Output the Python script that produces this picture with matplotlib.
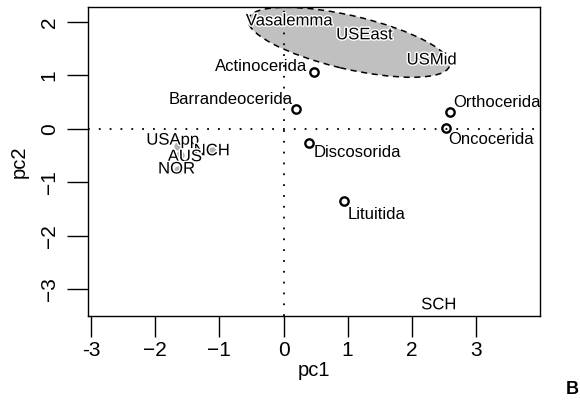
import numpy as np
import matplotlib
matplotlib.use("Agg")
import matplotlib.pyplot as plt
import matplotlib.patheffects as pe
from matplotlib.patches import Ellipse

plt.rcParams["font.family"] = ["Liberation Sans", "DejaVu Sans"]

# orders (open circles)
orders = ["Actinocerida", "Barrandeocerida", "Orthocerida", "Oncocerida", "Discosorida", "Lituitida"]
ord_pc1 = [0.47, 0.20, 2.60, 2.54, 0.40, 0.95]
ord_pc2 = [1.07, 0.37, 0.32, 0.02, -0.26, -1.35]
# label offsets (pixels) and alignment for each order label
ord_off = [(-6, 5), (-4, 10), (3, 9), (2, -12), (4, -10), (3, -13)]
ord_ha = ["right", "right", "left", "left", "left", "left"]

# localities (grey points + labels)
locs = ["USApp", "NCH", "AUS", "NOR", "Vasalemma", "USEast", "USMid", "SCH"]
loc_pc1 = [-1.64, -1.12, -1.62, -1.65, 0.09, 1.26, 2.31, 2.42]
loc_pc2 = [-0.32, -0.41, -0.48, -0.77, 2.02, 1.76, 1.29, -3.29]
lab_pc1 = [-1.73, -1.12, -1.54, -1.67, 0.09, 1.26, 2.31, 2.42]
lab_pc2 = [-0.21, -0.41, -0.52, -0.75, 2.02, 1.76, 1.29, -3.29]

# group ellipse (centre, full width/height, angle)
ell_c = (1.02, 1.62)
ell_w, ell_h, ell_ang = 3.26, 0.99, -16

fig = plt.figure(figsize=(5.8, 4.0), dpi=100)
ax = fig.add_axes([88/580, 1-316/400, (540-88)/580, (316-7)/400])
ax.set_xlim(-3.05, 4.0)
ax.set_ylim(-3.5, 2.28)

ax.add_patch(Ellipse(ell_c, ell_w, ell_h, angle=ell_ang, facecolor="#c0c0c0",
                     edgecolor="black", ls=(0, (4, 3)), lw=1.1, zorder=1))
ax.axhline(0, color="black", ls=(0, (1, 5)), lw=1.3, zorder=2)
ax.axvline(0, color="black", ls=(0, (1, 5)), lw=1.3, zorder=2)

ax.plot(loc_pc1[:4], loc_pc2[:4], "o", ms=6, color="#b3b3b3", mec="none", zorder=3)
halo = [pe.withStroke(linewidth=2, foreground="white")]
for name, x, y in zip(locs, lab_pc1, lab_pc2):
    ax.text(x, y, name, ha="center", va="center", fontsize=12,
            path_effects=halo, zorder=5)

ax.plot(ord_pc1, ord_pc2, "o", ms=6, mfc="none", mec="black", mew=1.7, zorder=4)
for name, x, y, off, ha in zip(orders, ord_pc1, ord_pc2, ord_off, ord_ha):
    ax.annotate(name, (x, y), xytext=off, textcoords="offset pixels",
                ha=ha, va="center", fontsize=12, zorder=5)

ax.set_xticks([-3, -2, -1, 0, 1, 2, 3])
ax.set_xticklabels(["-3", "\u22122", "\u22121", "0", "1", "2", "3"])
ax.set_yticks([-3, -2, -1, 0, 1, 2])
ax.set_yticklabels(["\u22123", "\u22122", "\u22121", "0", "1", "2"], rotation=90, va="center")
ax.tick_params(direction="out", length=15, width=1, labelsize=15, pad=3)
ax.tick_params(axis="y", pad=6)
for s in ax.spines.values():
    s.set_linewidth(1)
ax.set_xlabel("pc1", fontsize=14.5, labelpad=1)
ax.set_ylabel("pc2", fontsize=14.5, labelpad=8)

fig.text(572/580, 1-390/400, "B", fontsize=13, fontweight="bold", ha="center", va="center")

fig.savefig("out.png", dpi=100)
